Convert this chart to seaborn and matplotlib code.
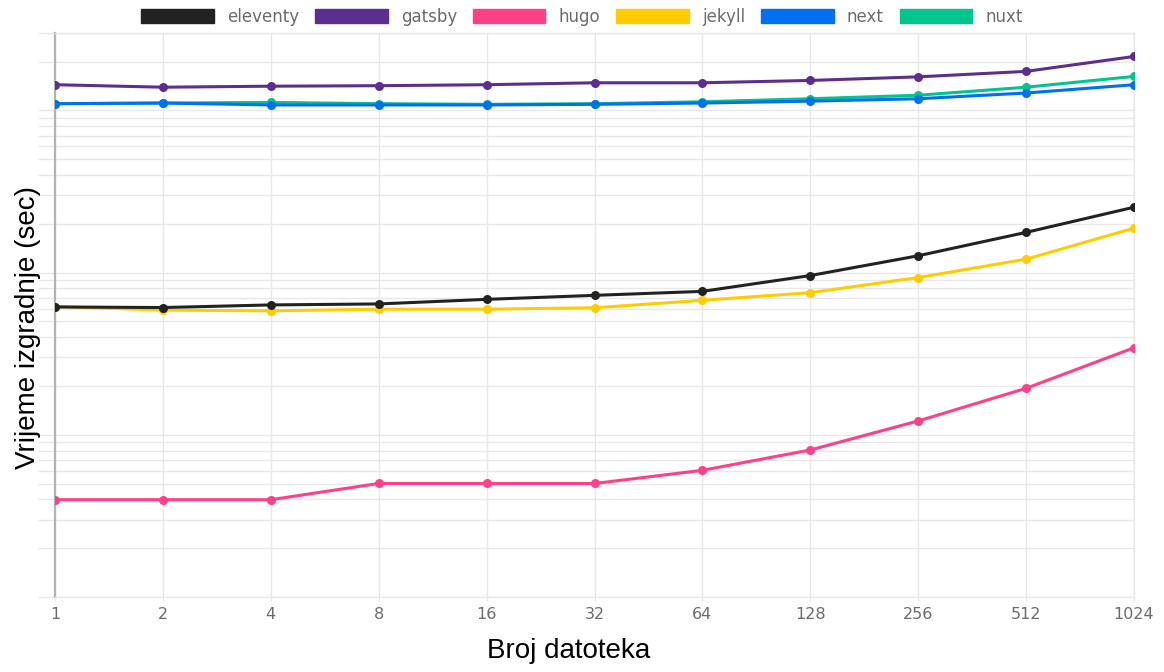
import numpy as np
import pandas as pd
import matplotlib
matplotlib.use("Agg")
import matplotlib.pyplot as plt
import seaborn as sns
from matplotlib.patches import Patch
from matplotlib.ticker import LogLocator, NullFormatter, FixedLocator, FixedFormatter, NullLocator

# ---- data (build time in seconds) ----
files = [1, 2, 4, 8, 16, 32, 64, 128, 256, 512, 1024]
tick_labels = ["1", "2", "4", "8", "16", "32", "64", "128", "256", "512", "1024"]
series_names = ["eleventy", "gatsby", "hugo", "jekyll", "next", "nuxt"]
eleventy = [0.614, 0.609, 0.632, 0.641, 0.684, 0.724, 0.766, 0.959, 1.27, 1.77, 2.53]
gatsby = [14.4, 13.9, 14.1, 14.2, 14.4, 14.8, 14.8, 15.3, 16.1, 17.4, 21.5]
hugo = [0.0398, 0.0398, 0.0398, 0.0501, 0.0501, 0.0501, 0.0604, 0.0806, 0.1217, 0.1935, 0.344]
jekyll = [0.618, 0.587, 0.581, 0.595, 0.595, 0.607, 0.675, 0.752, 0.932, 1.21, 1.88]
next_js = [11.0, 11.1, 10.8, 10.8, 10.8, 10.9, 11.1, 11.4, 11.8, 12.8, 14.4]
nuxt = [11.0, 11.1, 11.2, 11.0, 10.9, 11.0, 11.3, 11.8, 12.4, 13.9, 16.2]

colors = {
    "eleventy": "#222222",
    "gatsby": "#5c2e8f",
    "hugo": "#ff4088",
    "jekyll": "#ffcc00",
    "next": "#0070f3",
    "nuxt": "#00c58e",
}

values = {"eleventy": eleventy, "gatsby": gatsby, "hugo": hugo,
          "jekyll": jekyll, "next": next_js, "nuxt": nuxt}
df = pd.concat(
    [pd.DataFrame({"files": files, "time": values[n], "framework": n}) for n in series_names],
    ignore_index=True,
)

sns.set_style("white")
plt.rcParams["font.family"] = ["DejaVu Sans"]

fig = plt.figure(figsize=(11.64, 6.72), dpi=100)
ax = fig.add_axes([0.04725, 0.1116, 0.92698, 0.83928])

grid_c = "#e8e8e8"

# first dataset on top (draw in reverse order)
for i, name in enumerate(reversed(series_names)):
    sub = df[df["framework"] == name]
    sns.lineplot(data=sub, x="files", y="time", ax=ax, color=colors[name],
                 linewidth=2.2, marker="o", markersize=6.5, markeredgewidth=0,
                 zorder=3 + i, legend=False, sort=False)

ax.set_xscale("log", base=2)
ax.set_yscale("log")
ax.set_xlim(1, 1024)
ax.set_ylim(0.01, 30)

ax.xaxis.set_major_locator(FixedLocator(files))
ax.xaxis.set_major_formatter(FixedFormatter(tick_labels))
ax.xaxis.set_minor_locator(NullLocator())

ax.yaxis.set_major_locator(LogLocator(base=10))
ax.yaxis.set_minor_locator(LogLocator(base=10, subs=np.arange(2, 10)))
ax.yaxis.set_major_formatter(NullFormatter())
ax.yaxis.set_minor_formatter(NullFormatter())

ax.grid(True, which="both", color=grid_c, linewidth=1.0)
ax.set_axisbelow(True)

ax.tick_params(axis="y", which="both", length=12.5, width=1.0, color=grid_c, left=True)
ax.tick_params(axis="x", which="major", length=3, width=1.0, color=grid_c,
               labelsize=11.5, labelcolor="#6b6b6b", pad=4, bottom=True)

for side in ["top", "right", "bottom"]:
    ax.spines[side].set_color(grid_c)
    ax.spines[side].set_linewidth(1.0)
ax.spines["left"].set_color("#b3b3b3")
ax.spines["left"].set_linewidth(1.6)

ax.set_xlabel("Broj datoteka", fontsize=20, family=["Liberation Sans", "DejaVu Sans"], color="#000000")
ax.set_ylabel("Vrijeme izgradnje (sec)", fontsize=20, family=["Liberation Sans", "DejaVu Sans"], color="#000000")
ax.xaxis.set_label_coords(0.476, -0.072)
ax.yaxis.set_label_coords(-0.013, 0.477)

handles = [Patch(facecolor=colors[n], edgecolor=colors[n], label=n) for n in series_names]
leg = fig.legend(handles=handles, loc="center", bbox_to_anchor=(0.5, 0.975), ncol=6,
                 frameon=False, fontsize=12, handlelength=4.35, handleheight=0.85,
                 handletextpad=0.8, columnspacing=0.95)
for t in leg.get_texts():
    t.set_color("#6b6b6b")

fig.savefig("out.png", dpi=100)
